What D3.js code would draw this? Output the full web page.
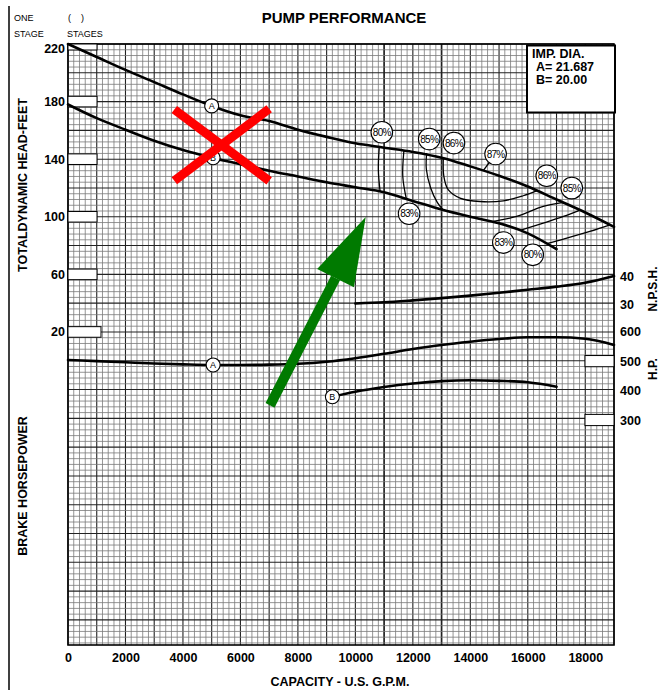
<!DOCTYPE html>
<html>
<head>
<meta charset="utf-8">
<script src="https://cdnjs.cloudflare.com/ajax/libs/d3/7.8.5/d3.min.js"></script>
<style>
body{margin:0;background:#fff}
svg{display:block;font-family:"Liberation Sans",Arial,sans-serif}
.tick text{font-weight:bold;font-size:12.5px;fill:#000}
</style>
</head>
<body>
<script>
// tick labels
const gpmTicks=[0,2000,4000,6000,8000,10000,12000,14000,16000,18000];
const headTicks=[20,60,100,140,180,220];
const npshTicks=[30,40];
const hpTicks=[300,400,500,600];

// [gpm, head ft]
const headA=[[0,220],[1000,211],[2000,202],[3000,193.5],[4000,185],[5000,177],[6000,170.5],[7000,166.5],[8000,160.5],[9000,155.5],[10000,151],[11000,148],[12000,145],[13000,141],[14000,135],[15000,128.5],[16000,121],[17000,112],[18000,103],[19000,93]];
const headB=[[0,178],[1000,168.5],[2000,160.5],[3000,152.8],[4000,146.3],[5000,141],[6000,136.5],[7000,132],[8000,128],[9000,124],[10000,120.5],[11000,117],[12000,111],[13000,105],[14000,100],[15000,95.5],[16000,88.5],[17000,77.5]];
// [gpm, npsh ft]
const npsh=[[10000,30.2],[11000,30.6],[12000,31.3],[13000,32.1],[14000,33],[15000,34],[16000,35.1],[17000,36.2],[18000,37.6],[19000,40]];
// [gpm, hp]
const bhpA=[[0,504],[1000,500],[2000,496],[3000,492],[4000,489],[5000,487],[6000,487],[7000,488],[8000,491],[9000,498],[10000,510],[11000,525],[12000,541],[13000,555],[14000,566],[15000,575],[16000,581],[17000,581],[18000,576],[19000,555]];
const bhpB=[[9200,379],[10000,396],[11000,412],[12000,424],[13000,432],[14000,435],[15000,433],[16000,428],[17000,413]];

// efficiency contours [gpm, head]
const eff80L=[[10830,148.2],[10800,132.7],[10860,117.6]];
const eff83L=[[11690,146.2],[11650,128],[11780,111.8]];
const eff85L=[[12480,144.3],[12470,133],[12620,120],[12850,110],[13050,104.8]];
const eff86=[[13060,140.8],[13080,128],[13230,118.8],[13640,113],[14340,110.6],[15150,111.1],[15840,114.6],[16350,118.3]];
const eff85R=[[14800,96.8],[15610,100.2],[16540,107.2],[17250,110]];
const eff83R=[[15730,90.6],[16540,95.6],[17240,100.2],[17820,104.6]];
const eff80R=[[16660,81.4],[17240,84.5],[18160,89.8],[18860,94.4]];
const effLabels=[["80%",10920,158.7],["85%",12570,154],["86%",13430,151.2],["87%",14880,143.6],["86%",16660,128.5],["85%",17530,119.9],["83%",11870,102.1],["83%",15150,82.1],["80%",16170,73.6]];
const bestPoint=[[14450,132],[14880,143.6]];

// curve letters
const headLetters=[["A",5000,177],["B",5050,141]];
const hpLetters=[["A",5050,487],["B",9200,379]];

// annotations drawn over the chart [gpm, head]
const redCross=[[[3700,174.5],[7000,125]],[[7000,175],[3700,125]]];
const arrowShaft=[[7030,-31],[9310,57.5]];
const arrowHead=[[10360,99.8],[8670,63.8],[9950,51.1]];

const W=661,H=690;
const L=68,R=614,T=44,B=645;

const svg=d3.select("body").append("svg").attr("width",W).attr("height",H);

const x=d3.scaleLinear().domain([0,19000]).range([L,R]);
const yHead=d3.scaleLinear().domain([0,220]).range([360.75,T]);
const yNpsh=d3.scaleLinear().domain([30,40]).range([304,276]);
const yHp=d3.scaleLinear().domain([300,600]).range([420,331.7]);

//grid paper
const grid=svg.append("g");
grid.selectAll(".v").data(d3.range(0,19001,200)).join("line")
  .attr("x1",d=>x(d)).attr("x2",d=>x(d)).attr("y1",T).attr("y2",B)
  .attr("stroke",d=>d%1000==0?"#222":"#7a7a7a")
  .attr("stroke-width",d=>(d==11000||d==13000)?1.7:(d%1000==0?1.1:0.8));
const headMin=yHead.invert(B);
grid.selectAll(".h").data(d3.range(220,headMin,-4)).join("line")
  .attr("x1",L).attr("x2",R).attr("y1",d=>yHead(d)).attr("y2",d=>yHead(d))
  .attr("stroke",d=>d%20==0?"#222":"#7a7a7a")
  .attr("stroke-width",d=>d%20==0?1.1:0.8);

svg.append("rect").attr("x",L).attr("y",T).attr("width",R-L).attr("height",B-T)
  .attr("fill","none").attr("stroke","#000").attr("stroke-width",1.6);

// left margin rule
svg.append("line").attr("x1",9).attr("x2",9).attr("y1",6).attr("y2",H)
  .attr("stroke","#000").attr("stroke-width",1.5);

// blank boxes at ticks
svg.selectAll(".lbox").data(headTicks).join("rect")
  .attr("x",L).attr("y",d=>d==220?T:yHead(d)-5.3)
  .attr("width",d=>d==20?33:29).attr("height",d=>d==220?6:10.6)
  .attr("fill","#fff").attr("stroke","#000").attr("stroke-width",1);
svg.selectAll(".rbox").data([500,300]).join("rect")
  .attr("x",R-29).attr("y",d=>yHp(d)-5.6).attr("width",29).attr("height",11.2)
  .attr("fill","#fff").attr("stroke","#000").attr("stroke-width",1);

//axes
svg.append("g").attr("transform","translate(0,"+B+")")
  .call(d3.axisBottom(x).tickValues(gpmTicks).tickSize(0).tickPadding(8).tickFormat(d3.format("d")))
  .call(g=>g.select(".domain").remove());
svg.append("g").attr("transform","translate("+L+",0)")
  .call(d3.axisLeft(yHead).tickValues(headTicks).tickSize(0).tickPadding(3))
  .call(g=>g.select(".domain").remove())
  .call(g=>g.selectAll(".tick text").filter(d=>d==220).attr("y",4));
svg.append("g").attr("transform","translate("+R+",0)")
  .call(d3.axisRight(yNpsh).tickValues(npshTicks).tickSize(0).tickPadding(6))
  .call(g=>g.select(".domain").remove());
svg.append("g").attr("transform","translate("+R+",0)")
  .call(d3.axisRight(yHp).tickValues(hpTicks).tickSize(0).tickPadding(6))
  .call(g=>g.select(".domain").remove());

//curves
const headLine=d3.line().x(d=>x(d[0])).y(d=>yHead(d[1])).curve(d3.curveMonotoneX);
const npshLine=d3.line().x(d=>x(d[0])).y(d=>yNpsh(d[1])).curve(d3.curveMonotoneX);
const hpLine=d3.line().x(d=>x(d[0])).y(d=>yHp(d[1])).curve(d3.curveMonotoneX);
const effLine=d3.line().x(d=>x(d[0])).y(d=>yHead(d[1])).curve(d3.curveCatmullRom);

[[headA,headLine],[headB,headLine],[npsh,npshLine],[bhpA,hpLine],[bhpB,hpLine]].forEach(([d,f])=>{
  svg.append("path").attr("d",f(d)).attr("fill","none").attr("stroke","#000")
    .attr("stroke-width",2.6).attr("stroke-linecap","round");
});
[eff80L,eff83L,eff85L,eff86,eff85R,eff83R,eff80R,bestPoint].forEach(d=>{
  svg.append("path").attr("d",effLine(d)).attr("fill","none").attr("stroke","#000").attr("stroke-width",1.3);
});

//badges
function badge(cx,cy,txt,r,fs){
  svg.append("circle").attr("cx",cx).attr("cy",cy).attr("r",r)
    .attr("fill","#fff").attr("stroke","#000").attr("stroke-width",1.1);
  svg.append("text").attr("x",cx).attr("y",cy).attr("dy","0.36em")
    .attr("text-anchor","middle").attr("font-size",fs)
    .attr("letter-spacing",txt.length>1?-0.7:0).text(txt);
}
effLabels.forEach(d=>badge(x(d[1]),yHead(d[2]),d[0],10.8,10));
headLetters.forEach(d=>badge(x(d[1]),yHead(d[2]),d[0],7,9));
hpLetters.forEach(d=>badge(x(d[1]),yHp(d[2]),d[0],7,9));

//impeller box
svg.append("rect").attr("x",527).attr("y",45.5).attr("width",88).attr("height",67)
  .attr("fill","#fff").attr("stroke","#000").attr("stroke-width",2);
const imp=svg.append("g").attr("font-weight","bold").attr("font-size",12.5);
imp.append("text").attr("x",532).attr("y",57.5).text("IMP. DIA.");
imp.append("text").attr("x",536).attr("y",70.5).text("A= 21.687");
imp.append("text").attr("x",536).attr("y",83.5).text("B= 20.00");

//texts
svg.append("text").attr("x",344).attr("y",23).attr("text-anchor","middle")
  .attr("font-weight","bold").attr("font-size",15).text("PUMP PERFORMANCE");
const small=svg.append("g").attr("font-size",9);
small.append("text").attr("x",14).attr("y",21).text("ONE");
small.append("text").attr("x",14).attr("y",37).text("STAGE");
small.append("text").attr("x",68).attr("y",21).attr("xml:space","preserve").text("(    )");
small.append("text").attr("x",67).attr("y",37).text("STAGES");

const titles=svg.append("g").attr("font-weight","bold").attr("font-size",12.5).attr("text-anchor","middle");
titles.append("text").attr("x",340).attr("y",686).text("CAPACITY - U.S. G.P.M.");
titles.append("text").attr("transform","translate(27,185) rotate(-90)").text("TOTALDYNAMIC HEAD-FEET");
titles.append("text").attr("transform","translate(27,486) rotate(-90)").text("BRAKE HORSEPOWER");
titles.append("text").attr("transform","translate(657,289) rotate(-90)").attr("font-size",12).text("N.P.S.H.");
titles.append("text").attr("transform","translate(657,369) rotate(-90)").attr("font-size",12).text("H.P.");

//markup over the chart
redCross.forEach(s=>{
  svg.append("line").attr("x1",x(s[0][0])).attr("y1",yHead(s[0][1]))
    .attr("x2",x(s[1][0])).attr("y2",yHead(s[1][1]))
    .attr("stroke","#ff0000").attr("stroke-width",9);
});
svg.append("line").attr("x1",x(arrowShaft[0][0])).attr("y1",yHead(arrowShaft[0][1]))
  .attr("x2",x(arrowShaft[1][0])).attr("y2",yHead(arrowShaft[1][1]))
  .attr("stroke","#007a00").attr("stroke-width",10);
svg.append("polygon").attr("points",arrowHead.map(d=>x(d[0])+","+yHead(d[1])).join(" "))
  .attr("fill","#007a00");
</script>
</body>
</html>
